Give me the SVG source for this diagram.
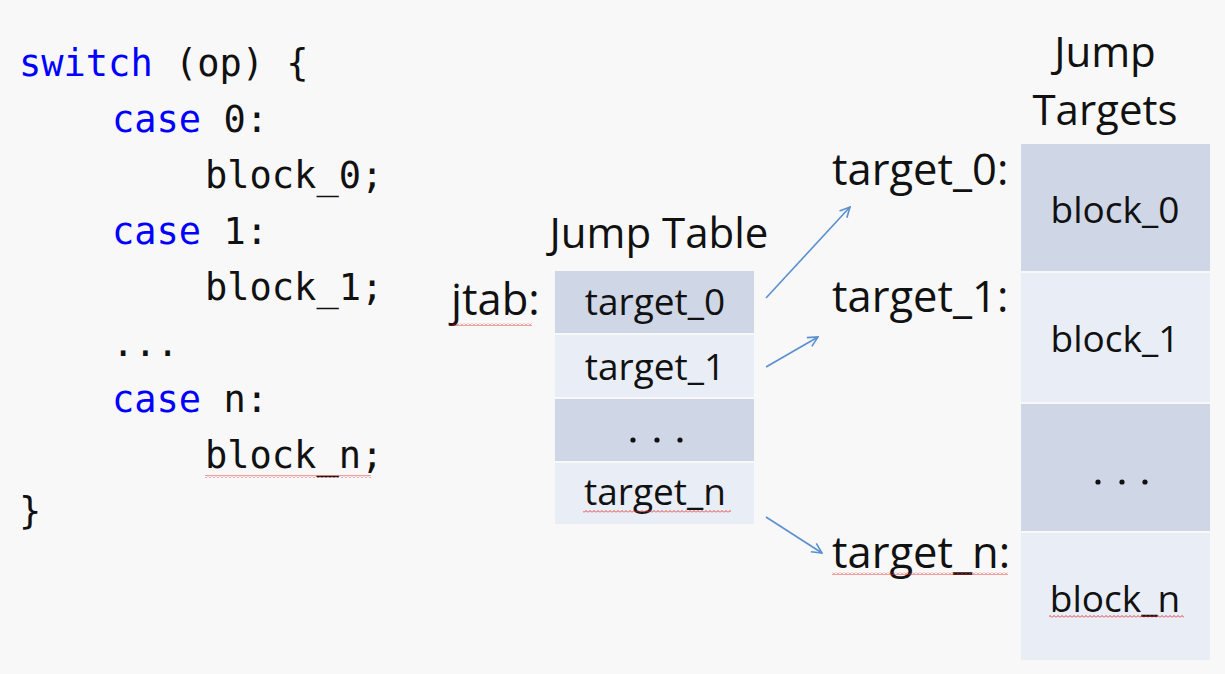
<svg xmlns="http://www.w3.org/2000/svg" width="1225" height="674" viewBox="0 0 1225 674">
<style>
.code{font-family:"DejaVu Sans Mono","Liberation Mono",monospace;font-size:37px;fill:#111}
.kw{fill:#0000ff}
.lbl{font-family:"Open Sans","Liberation Sans",sans-serif;font-size:43.5px;fill:#111}
.hdr{font-family:"Open Sans","Liberation Sans",sans-serif;font-size:42px;fill:#111;text-anchor:middle}
.cell{font-family:"Open Sans","Liberation Sans",sans-serif;font-size:37px;fill:#111;text-anchor:middle}
.dark{fill:#cfd6e6}
.light{fill:#e9edf5}
.dot{fill:#111}
.conn{stroke:#5a8fd0;stroke-width:1.6;fill:none;marker-end:url(#arr)}
.squig{fill:url(#wave)}
</style>
<defs>
<marker id="arr" viewBox="0 0 12 12" refX="11" refY="6" markerWidth="12" markerHeight="12" markerUnits="userSpaceOnUse" orient="auto">
<path d="M1,1 L11,6 L1,11" fill="none" stroke="#5a8fd0" stroke-width="1.6"/>
</marker>
<pattern id="wave" width="4" height="3" patternUnits="userSpaceOnUse">
<polyline points="0,2.5 2,0.5 4,2.5" fill="none" stroke="#e03030" stroke-width="0.9"/>
</pattern>
</defs>
<rect width="1225" height="674" fill="#f8f8f8"/>

<g id="code">
<text class="code" x="19" y="76"><tspan class="kw">switch</tspan> (op) {</text>
<text class="code" x="112" y="132"><tspan class="kw">case</tspan> 0:</text>
<text class="code" x="205" y="188">block_0;</text>
<text class="code" x="112" y="244"><tspan class="kw">case</tspan> 1:</text>
<text class="code" x="205" y="300">block_1;</text>
<text class="code" x="112" y="356">...</text>
<text class="code" x="112" y="412"><tspan class="kw">case</tspan> n:</text>
<text class="code" x="205" y="468">block_n;</text>
<text class="code" x="19" y="524">}</text>
<rect class="squig" x="205" y="475" width="166" height="3"/>
</g>

<g id="jump-table">
<text class="hdr" x="659" y="248">Jump Table</text>
<text class="lbl" x="451" y="315">jtab:</text>
<rect class="squig" x="452" y="323" width="80" height="3"/>
<rect class="dark" x="555" y="271" width="199" height="62"/>
<rect class="light" x="555" y="335" width="199" height="62"/>
<rect class="dark" x="555" y="399" width="199" height="62"/>
<rect class="light" x="555" y="463" width="199" height="61"/>
<text class="cell" x="655" y="315">target_0</text>
<text class="cell" x="655" y="380">target_1</text>
<circle class="dot" cx="633" cy="440" r="2.6"/>
<circle class="dot" cx="657" cy="440" r="2.6"/>
<circle class="dot" cx="680" cy="440" r="2.6"/>
<text class="cell" x="655" y="505">target_n</text>
<rect class="squig" x="583" y="510" width="148" height="3"/>
</g>

<g id="jump-targets">
<text class="hdr" x="1105" y="67">Jump</text>
<text class="hdr" x="1105" y="125">Targets</text>
<rect class="dark" x="1021" y="144" width="189" height="127"/>
<rect class="light" x="1021" y="273" width="189" height="129"/>
<rect class="dark" x="1021" y="404" width="189" height="127"/>
<rect class="light" x="1021" y="533" width="189" height="127"/>
<text class="cell" x="1115" y="223">block_0</text>
<text class="cell" x="1115" y="352">block_1</text>
<circle class="dot" cx="1098" cy="482" r="2.6"/>
<circle class="dot" cx="1122" cy="482" r="2.6"/>
<circle class="dot" cx="1145" cy="482" r="2.6"/>
<text class="cell" x="1115" y="612">block_n</text>
<rect class="squig" x="1049" y="615" width="135" height="3"/>
</g>

<g id="labels">
<text class="lbl" x="832" y="185">target_0:</text>
<text class="lbl" x="832" y="312">target_1:</text>
<text class="lbl" x="832" y="568">target_n:</text>
<rect class="squig" x="832" y="572" width="176" height="3"/>
</g>

<g id="connectors">
<line class="conn" x1="766" y1="298" x2="850" y2="207"/>
<line class="conn" x1="766" y1="367" x2="818" y2="337"/>
<line class="conn" x1="766" y1="517" x2="822" y2="553"/>
</g>
</svg>
